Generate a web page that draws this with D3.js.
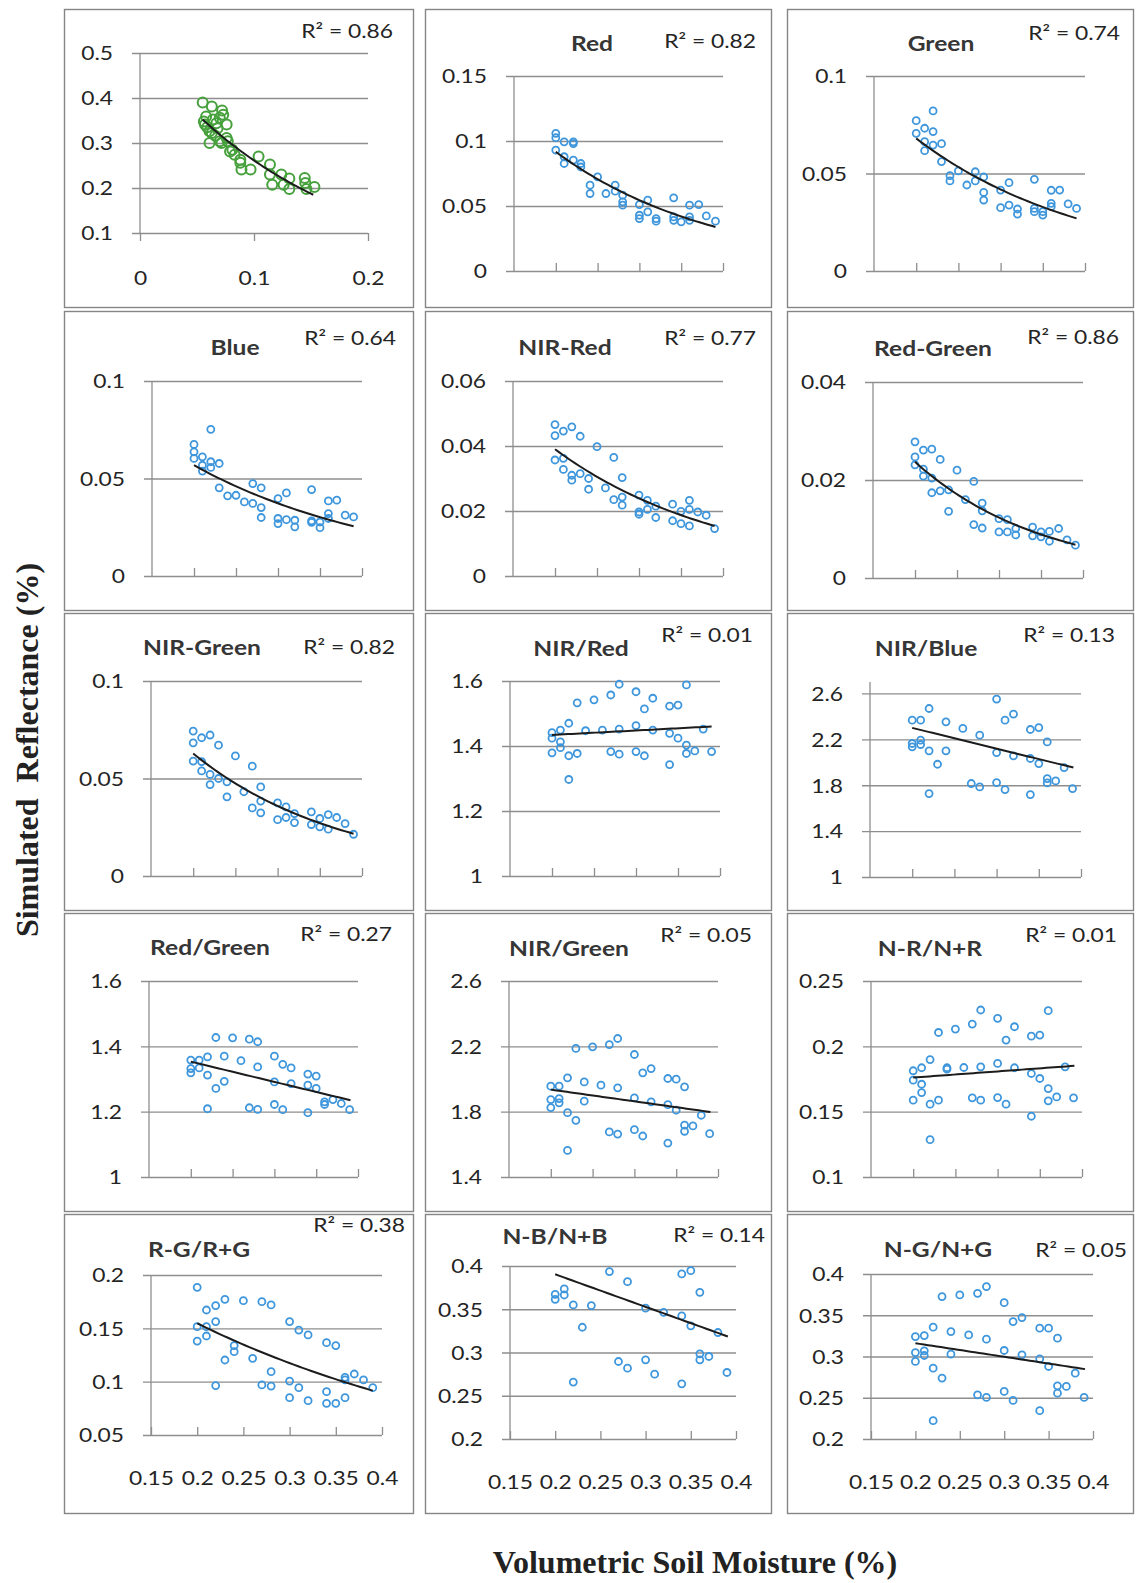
<!DOCTYPE html>
<html><head><meta charset="utf-8">
<script src="https://cdn.jsdelivr.net/npm/d3@7"></script>
<style>
html,body{margin:0;padding:0;background:#fff;}
svg{display:block;}
</style></head><body>
<svg id="chart" width="1136" height="1583"></svg>
<script>
// ---- Data: [soil moisture, index value] per sample, one array per panel ----
const reflPts = [[0.055,0.390],[0.063,0.381],[0.058,0.359],[0.056,0.348],[0.057,0.341],[0.061,0.326],[0.059,0.335],[0.064,0.352],[0.067,0.344],[0.070,0.356],[0.072,0.372],[0.073,0.363],[0.076,0.341],[0.063,0.322],[0.061,0.300],[0.070,0.304],[0.076,0.311],[0.077,0.304],[0.0715,0.300],[0.066,0.316],[0.079,0.281],[0.083,0.274],[0.088,0.263],[0.088,0.256],[0.089,0.241],[0.097,0.241],[0.104,0.270],[0.114,0.252],[0.114,0.230],[0.116,0.207],[0.124,0.230],[0.126,0.207],[0.131,0.221],[0.131,0.198],[0.1445,0.222],[0.145,0.211],[0.146,0.198],[0.153,0.202],[0.081,0.285],[0.068,0.333]];
const redPts = [[0.2,0.1058],[0.2,0.1025],[0.2,0.093],[0.21,0.0994],[0.21,0.0879],[0.21,0.0827],[0.221,0.0994],[0.221,0.098],[0.221,0.0853],[0.23,0.0827],[0.23,0.080],[0.241,0.066],[0.241,0.0596],[0.25,0.0724],[0.26,0.0596],[0.271,0.066],[0.271,0.0614],[0.28,0.0583],[0.28,0.0532],[0.28,0.0506],[0.3,0.0511],[0.3,0.0429],[0.3,0.0403],[0.31,0.0545],[0.31,0.0455],[0.32,0.0403],[0.32,0.0383],[0.341,0.0563],[0.341,0.0416],[0.341,0.039],[0.35,0.0378],[0.36,0.0506],[0.36,0.0416],[0.36,0.039],[0.371,0.0511],[0.38,0.0424],[0.391,0.0383]];
const greenPts = [[0.2,0.0771],[0.2,0.0706],[0.21,0.0732],[0.21,0.0663],[0.21,0.0617],[0.22,0.0821],[0.22,0.0715],[0.22,0.0646],[0.23,0.0653],[0.23,0.0561],[0.24,0.0489],[0.24,0.0462],[0.25,0.0513],[0.26,0.0441],[0.27,0.0509],[0.27,0.0462],[0.28,0.0482],[0.28,0.0403],[0.28,0.0364],[0.3,0.0415],[0.3,0.0325],[0.31,0.0453],[0.31,0.0338],[0.32,0.0318],[0.32,0.0292],[0.34,0.047],[0.34,0.0321],[0.34,0.0304],[0.35,0.0304],[0.35,0.0287],[0.36,0.0414],[0.36,0.0347],[0.36,0.033],[0.37,0.0415],[0.38,0.0344],[0.39,0.0321]];
const bluePts = [[0.2,0.0675],[0.2,0.0637],[0.2,0.0603],[0.21,0.0611],[0.21,0.0568],[0.21,0.0538],[0.22,0.0752],[0.22,0.0586],[0.22,0.0557],[0.23,0.0577],[0.23,0.0452],[0.24,0.0411],[0.25,0.0414],[0.26,0.038],[0.27,0.0474],[0.27,0.0372],[0.28,0.0452],[0.28,0.0351],[0.28,0.030],[0.3,0.0397],[0.3,0.0295],[0.3,0.0269],[0.31,0.0426],[0.31,0.0289],[0.32,0.0286],[0.32,0.0252],[0.34,0.0443],[0.34,0.0283],[0.34,0.0275],[0.35,0.0277],[0.35,0.0248],[0.36,0.0385],[0.36,0.032],[0.36,0.0295],[0.37,0.0389],[0.38,0.0312],[0.39,0.0303]];
const nirRedDiffPts = [[0.2,0.0466],[0.2,0.0432],[0.21,0.0446],[0.22,0.0459],[0.23,0.043],[0.25,0.0398],[0.2,0.0357],[0.21,0.0362],[0.21,0.0328],[0.22,0.031],[0.22,0.0295],[0.23,0.0315],[0.24,0.030],[0.24,0.0267],[0.27,0.0365],[0.26,0.0271],[0.27,0.0235],[0.28,0.0303],[0.28,0.0243],[0.28,0.0218],[0.3,0.0249],[0.3,0.0197],[0.3,0.019],[0.31,0.0233],[0.31,0.0205],[0.32,0.0215],[0.32,0.018],[0.34,0.0221],[0.34,0.017],[0.35,0.0199],[0.35,0.0161],[0.36,0.0233],[0.36,0.0205],[0.36,0.0154],[0.37,0.0197],[0.38,0.0187],[0.39,0.0146]];
const redGreenDiffPts = [[0.2,0.0278],[0.2,0.0247],[0.2,0.0231],[0.21,0.0261],[0.21,0.0222],[0.21,0.0208],[0.22,0.0263],[0.22,0.0204],[0.22,0.0174],[0.23,0.0242],[0.23,0.0178],[0.24,0.018],[0.24,0.0136],[0.25,0.022],[0.26,0.016],[0.27,0.0197],[0.27,0.0109],[0.28,0.0153],[0.28,0.0137],[0.28,0.0102],[0.3,0.0121],[0.3,0.0094],[0.31,0.0119],[0.31,0.0094],[0.32,0.0101],[0.32,0.0088],[0.34,0.0104],[0.34,0.0086],[0.35,0.0094],[0.35,0.0084],[0.36,0.0095],[0.36,0.0075],[0.371,0.0101],[0.381,0.0078],[0.391,0.0067]];
const nirGreenDiffPts = [[0.2,0.0743],[0.2,0.0683],[0.2,0.0589],[0.21,0.0709],[0.21,0.0586],[0.21,0.0539],[0.22,0.0723],[0.22,0.0521],[0.22,0.0469],[0.23,0.0671],[0.23,0.05],[0.24,0.0483],[0.24,0.0406],[0.25,0.0616],[0.26,0.0432],[0.27,0.0563],[0.27,0.0349],[0.28,0.0457],[0.28,0.0384],[0.28,0.0324],[0.3,0.0375],[0.3,0.0289],[0.31,0.0354],[0.31,0.03],[0.32,0.032],[0.32,0.0274],[0.34,0.0329],[0.34,0.0264],[0.35,0.0295],[0.35,0.0252],[0.36,0.0315],[0.36,0.024],[0.37,0.03],[0.38,0.0269],[0.39,0.0214]];
const nirRedRatioPts = [[0.2,1.441],[0.2,1.424],[0.2,1.379],[0.21,1.449],[0.21,1.413],[0.21,1.395],[0.22,1.470],[0.22,1.370],[0.22,1.297],[0.23,1.533],[0.23,1.377],[0.24,1.447],[0.25,1.542],[0.26,1.449],[0.27,1.557],[0.27,1.383],[0.28,1.590],[0.28,1.452],[0.28,1.375],[0.3,1.567],[0.3,1.463],[0.3,1.383],[0.31,1.514],[0.31,1.370],[0.32,1.547],[0.32,1.449],[0.34,1.523],[0.34,1.439],[0.34,1.343],[0.35,1.526],[0.35,1.424],[0.36,1.588],[0.36,1.403],[0.36,1.377],[0.37,1.385],[0.38,1.452],[0.39,1.383]];
const nirBlueRatioPts = [[0.2,2.367],[0.2,2.164],[0.2,2.135],[0.21,2.367],[0.21,2.193],[0.21,2.155],[0.22,2.469],[0.22,2.100],[0.22,1.727],[0.23,1.983],[0.24,2.353],[0.24,2.100],[0.26,2.295],[0.27,1.815],[0.28,2.236],[0.28,1.785],[0.3,2.551],[0.3,2.085],[0.3,1.823],[0.31,2.367],[0.31,1.762],[0.32,2.420],[0.32,2.056],[0.34,2.286],[0.34,2.033],[0.34,1.719],[0.35,2.303],[0.35,1.989],[0.36,2.178],[0.36,1.858],[0.36,1.820],[0.37,1.838],[0.38,1.954],[0.39,1.771]];
const redGreenRatioPts = [[0.2,1.358],[0.2,1.332],[0.2,1.319],[0.21,1.358],[0.21,1.334],[0.22,1.368],[0.22,1.312],[0.22,1.209],[0.23,1.427],[0.23,1.271],[0.24,1.370],[0.24,1.293],[0.25,1.426],[0.26,1.356],[0.27,1.422],[0.27,1.212],[0.28,1.414],[0.28,1.337],[0.28,1.207],[0.3,1.370],[0.3,1.291],[0.3,1.222],[0.31,1.345],[0.31,1.206],[0.32,1.334],[0.32,1.286],[0.34,1.315],[0.34,1.281],[0.34,1.197],[0.35,1.309],[0.35,1.271],[0.36,1.230],[0.36,1.222],[0.37,1.237],[0.38,1.225],[0.39,1.206]];
const nirGreenRatioPts = [[0.2,1.956],[0.2,1.874],[0.2,1.825],[0.21,1.956],[0.21,1.880],[0.21,1.854],[0.22,2.007],[0.22,1.794],[0.22,1.563],[0.23,2.187],[0.23,1.747],[0.24,1.982],[0.24,1.864],[0.25,2.197],[0.26,1.962],[0.27,2.211],[0.28,2.248],[0.28,1.946],[0.27,1.676],[0.28,1.663],[0.3,2.150],[0.3,1.884],[0.3,1.690],[0.31,2.038],[0.31,1.651],[0.32,2.064],[0.32,1.860],[0.34,2.003],[0.34,1.843],[0.34,1.608],[0.35,1.999],[0.35,1.809],[0.36,1.952],[0.36,1.717],[0.36,1.680],[0.37,1.713],[0.38,1.778],[0.39,1.665]];
const ndviPts = [[0.2,0.1813],[0.2,0.1741],[0.2,0.1588],[0.21,0.1836],[0.21,0.171],[0.21,0.1646],[0.22,0.1899],[0.22,0.1557],[0.22,0.1286],[0.23,0.2106],[0.23,0.1588],[0.24,0.1836],[0.24,0.1825],[0.25,0.2132],[0.26,0.1838],[0.27,0.217],[0.27,0.1606],[0.28,0.2278],[0.28,0.1843],[0.28,0.1588],[0.3,0.2214],[0.3,0.1869],[0.3,0.1608],[0.31,0.2048],[0.31,0.1557],[0.32,0.215],[0.32,0.1836],[0.34,0.2078],[0.34,0.1792],[0.34,0.1465],[0.35,0.2086],[0.35,0.1754],[0.36,0.2273],[0.36,0.1677],[0.36,0.1583],[0.37,0.1613],[0.38,0.1843],[0.39,0.1606]];
const rgNdPts = [[0.2,0.1884],[0.2,0.1516],[0.2,0.1381],[0.21,0.1672],[0.21,0.1516],[0.21,0.1428],[0.22,0.1713],[0.22,0.1563],[0.22,0.0963],[0.23,0.1772],[0.23,0.1203],[0.24,0.1338],[0.24,0.1281],[0.25,0.1759],[0.26,0.1219],[0.27,0.175],[0.27,0.0969],[0.28,0.1719],[0.28,0.1094],[0.28,0.0959],[0.3,0.1563],[0.3,0.1006],[0.3,0.085],[0.31,0.1484],[0.31,0.0944],[0.32,0.1438],[0.32,0.0822],[0.34,0.1366],[0.34,0.0906],[0.34,0.0797],[0.35,0.1338],[0.35,0.0797],[0.36,0.1041],[0.36,0.1016],[0.36,0.085],[0.37,0.1072],[0.38,0.1016],[0.39,0.0944]];
const nbNdPts = [[0.2,0.3673],[0.2,0.3615],[0.21,0.3735],[0.21,0.3665],[0.22,0.355],[0.22,0.2658],[0.23,0.3292],[0.24,0.3542],[0.26,0.3935],[0.27,0.2896],[0.28,0.3819],[0.28,0.2819],[0.3,0.3512],[0.3,0.2915],[0.31,0.275],[0.32,0.3465],[0.34,0.3908],[0.34,0.3423],[0.34,0.2638],[0.35,0.3946],[0.35,0.3308],[0.36,0.3696],[0.36,0.2985],[0.36,0.2915],[0.37,0.2954],[0.38,0.3231],[0.39,0.2769]];
const ngNdPts = [[0.2,0.3242],[0.2,0.3048],[0.2,0.294],[0.21,0.3254],[0.21,0.3069],[0.21,0.3012],[0.22,0.3355],[0.22,0.2859],[0.22,0.2222],[0.23,0.3726],[0.23,0.2738],[0.24,0.3302],[0.24,0.3028],[0.25,0.3746],[0.26,0.3262],[0.27,0.3766],[0.27,0.2536],[0.28,0.3847],[0.28,0.321],[0.28,0.2504],[0.3,0.3653],[0.3,0.3073],[0.3,0.2577],[0.31,0.3423],[0.31,0.2468],[0.32,0.3472],[0.32,0.302],[0.34,0.3343],[0.34,0.2972],[0.34,0.2343],[0.35,0.3343],[0.35,0.2879],[0.36,0.3222],[0.36,0.2645],[0.36,0.2556],[0.37,0.2637],[0.38,0.2798],[0.39,0.2504]];

// ---- Trend lines: start and end of each fitted curve ----
const trends = [
  [[0.055,0.352],[0.152,0.185]], [[0.2,0.0917],[0.391,0.0339]], [[0.2,0.068],[0.39,0.027]],
  [[0.2,0.0568],[0.39,0.0255]], [[0.2,0.039],[0.39,0.0154]], [[0.2,0.0237],[0.391,0.0068]],
  [[0.2,0.0628],[0.39,0.0217]], [[0.2,1.434],[0.39,1.460]], [[0.2,2.300],[0.391,1.954]],
  [[0.2,1.353],[0.391,1.235]], [[0.2,1.935],[0.391,1.798]], [[0.2,0.1761],[0.391,0.1851]],
  [[0.2,0.1547],[0.39,0.0916]], [[0.2,0.3904],[0.391,0.3185]], [[0.2,0.3161],[0.391,0.2847]]
];
const fitTypes = ["exp","exp","exp","exp","exp","exp","exp","lin","lin","lin","lin","lin","exp","lin","lin"];

// ---- Labels and axes ----
const titles = ["", "Red", "Green", "Blue", "NIR-Red", "Red-Green", "NIR-Green", "NIR/Red", "NIR/Blue",
  "Red/Green", "NIR/Green", "N-R/N+R", "R-G/R+G", "N-B/N+B", "N-G/N+G"];
const r2Values = ["0.86","0.82","0.74","0.64","0.77","0.86","0.82","0.01","0.13","0.27","0.05","0.01","0.38","0.14","0.05"];
const yDomains = [[0.1,0.5],[0,0.15],[0,0.1],[0,0.1],[0,0.06],[0,0.04],[0,0.1],[1,1.6],[1,2.7],[1,1.6],[1.4,2.6],[0.1,0.25],[0.05,0.2],[0.2,0.4],[0.2,0.4]];
const yTickLists = [
  [0.1,0.2,0.3,0.4,0.5],[0,0.05,0.1,0.15],[0,0.05,0.1],[0,0.05,0.1],[0,0.02,0.04,0.06],[0,0.02,0.04],
  [0,0.05,0.1],[1,1.2,1.4,1.6],[1,1.4,1.8,2.2,2.6],[1,1.2,1.4,1.6],[1.4,1.8,2.2,2.6],[0.1,0.15,0.2,0.25],
  [0.05,0.1,0.15,0.2],[0.2,0.25,0.3,0.35,0.4],[0.2,0.25,0.3,0.35,0.4]
];
const firstXTicks = [0, 0.1, 0.2];
const moistureTicks = [0.15, 0.2, 0.25, 0.3, 0.35, 0.4];
const pointSets = [reflPts, redPts, greenPts, bluePts, nirRedDiffPts, redGreenDiffPts, nirGreenDiffPts,
  nirRedRatioPts, nirBlueRatioPts, redGreenRatioPts, nirGreenRatioPts, ndviPts, rgNdPts, nbNdPts, ngNdPts];

// ---- Layout ----
const colX = [64, 425, 787], colW = [349, 346, 346];
const rowY = [9, 311, 613, 913, 1214], rowH = [298, 299, 297, 298, 299];
// plot: [left, right, top, bottom] inside the frame; title centre; R² right edge and centre
const layout = [
  {plot:[76,304,44,224], title:null, r2:[329,22]},
  {plot:[89,298,67,262], title:[167,35], r2:[331,32]},
  {plot:[87,298,67,262], title:[154,35], r2:[333,24]},
  {plot:[88,298,70,265], title:[171,37], r2:[332,27]},
  {plot:[88,298,70,265], title:[140,37], r2:[331,27]},
  {plot:[86,296,71,267], title:[146,38], r2:[332,26]},
  {plot:[87,298,68,263], title:[138,35], r2:[331,34]},
  {plot:[85,295,68,263], title:[156,36], r2:[328,22]},
  {plot:[83,294,69,264], title:[139,36], r2:[328,22]},
  {plot:[85,294,68,264], title:[146,35], r2:[328,21]},
  {plot:[84,293,68,264], title:[144,36], r2:[327,22]},
  {plot:[84,295,68,264], title:[143,36], r2:[330,22]},
  {plot:[87,318,61,221], title:[135,36], r2:[341,11]},
  {plot:[85,311,52,225], title:[130,23], r2:[340,21]},
  {plot:[84,306,60,225], title:[151,36], r2:[340,36]}
];

const SX = 1.2;           // horizontal widening of the sans face
const FONT = "Lato, 'Open Sans', sans-serif";
const GRID = "#8e8e8e";
const INK = "#242424";
const svg = d3.select("#chart");

function widen(sel, x) {
  sel.attr("x", x / SX).attr("transform", `scale(${SX},1)`);
}

pointSets.forEach((pts, i) => {
  const L = layout[i];
  const col = i % 3, row = Math.floor(i / 3);
  const W = colW[col], H = rowH[row];
  const [pl, pr, pt, pb] = L.plot;
  const first = i === 0, bottomRow = row === 4;

  const g = svg.append("g").attr("transform", `translate(${colX[col]},${rowY[row]})`);
  g.append("rect").attr("x", 0.5).attr("y", 0.5).attr("width", W).attr("height", H)
    .attr("fill", "none").attr("stroke", "#858585").attr("stroke-width", 1.4);

  const xDom = first ? [0, 0.2] : [0.15, 0.4];
  const x = d3.scaleLinear().domain(xDom).range([pl, pr]);
  const y = d3.scaleLinear().domain(yDomains[i]).range([pb, pt]);

  // horizontal gridlines with y tick labels
  const ya = g.append("g").attr("transform", `translate(${pl},0)`)
    .call(d3.axisLeft(y).tickValues(yTickLists[i]).tickFormat(d => String(d))
      .tickSizeInner(-(pr - pl)).tickSizeOuter(0).tickPadding(0));
  ya.attr("font-family", FONT).attr("font-size", 19);
  ya.select(".domain").remove();
  ya.selectAll(".tick line").attr("x1", -8).attr("stroke", GRID).attr("stroke-width", 1.3);
  ya.selectAll(".tick text").attr("fill", INK).attr("dy", "0.36em").each(function () { widen(d3.select(this), -27); });

  // vertical axis line
  g.append("line").attr("x1", pl).attr("x2", pl).attr("y1", y(yDomains[i][1])).attr("y2", pb)
    .attr("stroke", GRID).attr("stroke-width", 1.3);

  // horizontal axis ticks (and labels on the first panel and the bottom row)
  const xTicks = first ? firstXTicks : (bottomRow ? moistureTicks : moistureTicks.slice(1));
  const showX = first || bottomRow;
  const xa = g.append("g").attr("transform", `translate(0,${pb})`)
    .call(d3.axisBottom(x).tickValues(xTicks).tickFormat(d => showX ? String(d) : "")
      .tickSizeInner(first ? 8 : -8).tickSizeOuter(0).tickPadding(0));
  xa.attr("font-family", FONT).attr("font-size", 19);
  xa.select(".domain").remove();
  xa.selectAll(".tick line").attr("stroke", GRID).attr("stroke-width", 1.3);
  xa.selectAll(".tick text").attr("fill", INK).attr("y", first ? 45 : 43).attr("dy", "0.36em")
    .each(function () { widen(d3.select(this), 0); });

  // trend line
  const [t0, t1] = trends[i];
  const curve = d3.range(0, 41).map(k => {
    const t = k / 40;
    const xv = t0[0] + (t1[0] - t0[0]) * t;
    const yv = fitTypes[i] === "exp" ? t0[1] * Math.pow(t1[1] / t0[1], t) : t0[1] + (t1[1] - t0[1]) * t;
    return [xv, yv];
  });

  // sample points
  g.append("g").selectAll("circle").data(pts).join("circle")
    .attr("cx", d => x(d[0])).attr("cy", d => y(d[1]))
    .attr("r", first ? 5 : 3.5)
    .attr("fill", "none")
    .attr("stroke", first ? "#46a13c" : "#3e96dc")
    .attr("stroke-width", first ? 2 : 1.8);

  g.append("path").datum(curve)
    .attr("d", d3.line().x(d => x(d[0])).y(d => y(d[1])))
    .attr("fill", "none").attr("stroke", "#1c1c1c").attr("stroke-width", 2);

  // panel title and R²
  if (L.title) {
    g.append("text").text(titles[i]).attr("y", L.title[1]).attr("dy", "0.36em")
      .attr("text-anchor", "middle").attr("font-family", FONT).attr("font-weight", 700)
      .attr("font-size", 20.5).attr("fill", "#363636")
      .call(s => widen(s, L.title[0]));
  }
  g.append("text").text("R\u00B2 = " + r2Values[i]).attr("y", L.r2[1]).attr("dy", "0.36em")
    .attr("text-anchor", "end").attr("font-family", FONT).attr("font-size", 19).attr("fill", INK)
    .call(s => widen(s, L.r2[0]));
});

// shared axis titles
svg.append("text").text("Volumetric Soil Moisture (%)")
  .attr("x", 695).attr("y", 1562).attr("dy", "0.35em").attr("text-anchor", "middle")
  .attr("font-family", "'Liberation Serif', 'Times New Roman', serif").attr("font-weight", 700)
  .attr("font-size", 32).attr("fill", "#222");
svg.append("text").text("Simulated  Reflectance (%)")
  .attr("transform", "translate(27,750) rotate(-90)").attr("dy", "0.35em").attr("text-anchor", "middle")
  .attr("font-family", "'Liberation Serif', 'Times New Roman', serif").attr("font-weight", 700)
  .attr("font-size", 32).attr("fill", "#222").style("white-space", "pre");
</script>
</body></html>
